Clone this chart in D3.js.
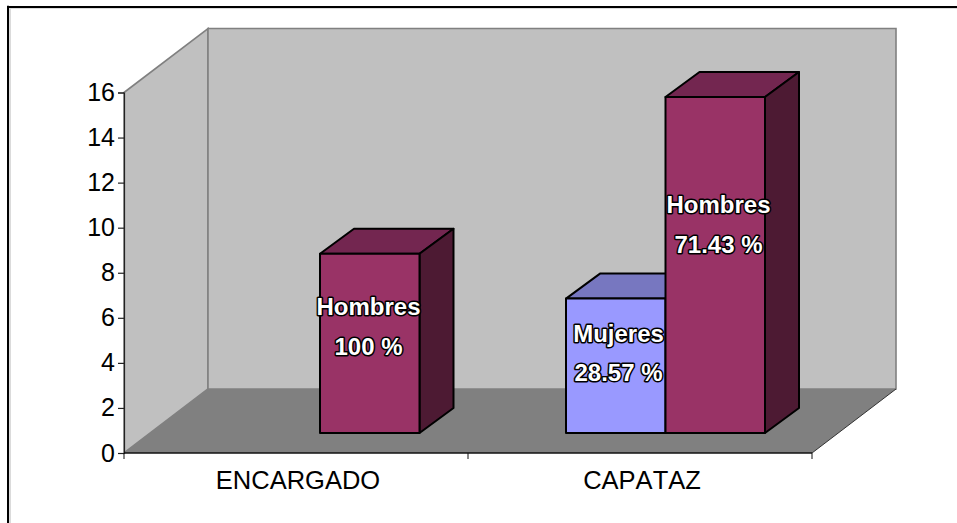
<!DOCTYPE html>
<html><head><meta charset="utf-8">
<script src="https://cdn.jsdelivr.net/npm/d3@7/dist/d3.min.js"></script>
<style>html,body{margin:0;padding:0;background:#fff}svg{display:block}text{font-family:"Liberation Sans",Arial,sans-serif;font-kerning:none}</style>
</head><body><svg id="c" width="957" height="523"></svg>
<script>
const categories = ["ENCARGADO", "CAPATAZ"];
const yTicks = [0,2,4,6,8,10,12,14,16];
const seriesMujeres = [null, 6];
const seriesHombres = [8, 15];
const labelsMujeres = [null, ["Mujeres","28.57 %"]];
const labelsHombres = [["Hombres","100 %"], ["Hombres","71.43 %"]];

const svg = d3.select("#c");
const x0=124,x1=812,y0=453,y1=92.5,dX=84,dY=64;
const x = d3.scaleBand().domain(categories).range([x0,x1]);
const y = d3.scaleLinear().domain([0,16]).range([y0,y1]);
const yBar = d3.scaleLinear().domain([0,16]).range([433,74.6]);
const inner = d3.scaleBand().domain(["Mujeres","Hombres"]).range([0,199]);
const C=(...p)=>p.map(q=>q.join(",")).join(" ");
const g=svg.append("g");

// frame: only the top and left rules appear in the picture
g.append("line").attr("x1",10).attr("x2",10).attr("y1",8).attr("y2",523).attr("stroke","#b8b8b8").attr("stroke-width",1);
g.append("line").attr("x1",8).attr("x2",957).attr("y1",8.5).attr("y2",8.5).attr("stroke","#dcdcdc").attr("stroke-width",1);
g.append("line").attr("x1",8).attr("x2",8).attr("y1",5.7).attr("y2",523).attr("stroke","#000").attr("stroke-width",2);
g.append("line").attr("x1",7).attr("x2",957).attr("y1",7).attr("y2",7).attr("stroke","#000").attr("stroke-width",2);
// walls
g.append("polygon").attr("points",C([x0,y0],[x0+dX,y0-dY],[x0+dX,y1-dY],[x0,y1])).attr("fill","#c0c0c0").attr("stroke","#808080").attr("stroke-width",1.6);
g.append("polygon").attr("points",C([x0+dX,y0-dY],[x1+dX,y0-dY],[x1+dX,y1-dY],[x0+dX,y1-dY])).attr("fill","#c0c0c0").attr("stroke","#808080").attr("stroke-width",1.6);
g.append("polygon").attr("points",C([x0,y0],[x1,y0],[x1+dX,y0-dY],[x0+dX,y0-dY])).attr("fill","#808080");
g.append("line").attr("x1",x1).attr("y1",y0).attr("x2",x1+dX).attr("y2",y0-dY).attr("stroke","#333").attr("stroke-width",1);

// axes
const ay=d3.axisLeft(y).tickValues(yTicks).tickSize(6).tickPadding(3);
const gy=g.append("g").attr("transform",`translate(${x0},0)`).call(ay);
gy.selectAll("text").attr("font-size",25).attr("fill","#000").attr("font-family","Liberation Sans");
gy.selectAll("path,line").attr("stroke","#222").attr("stroke-width",1.2);
const xTickPos=[x0,x0+x.bandwidth(),x1];
const gx=g.append("g");
gx.append("line").attr("x1",x0).attr("x2",x1).attr("y1",y0).attr("y2",y0).attr("stroke","#111").attr("stroke-width",1.5);
gx.selectAll("line.t").data(xTickPos).join("line").attr("class","t").attr("x1",d=>d).attr("x2",d=>d).attr("y1",y0).attr("y2",y0+6).attr("stroke","#111");
gx.selectAll("text").data(categories).join("text").attr("x",d=>x(d)+x.bandwidth()/2+2).attr("y",489).attr("text-anchor","middle").attr("font-size",25.5).attr("fill","#000").text(d=>d);

// bars
const bx=34,by=25,xOff=[196,98];
function bar(left,w,v,front,top,side){
  const b=yBar(0), t=yBar(v), h=b-t;
  const s=g.append("g").attr("stroke","#000").attr("stroke-width",2).attr("stroke-linejoin","round");
  s.append("polygon").attr("points",C([left,t],[left+bx,t-by],[left+w+bx,t-by],[left+w,t])).attr("fill",top);
  s.append("polygon").attr("points",C([left+w,t],[left+w+bx,t-by],[left+w+bx,b-by],[left+w,b])).attr("fill",side);
  s.append("rect").attr("x",left).attr("y",t).attr("width",w).attr("height",h).attr("fill",front);
}
function lab(cx,lines,ys){
  lines.forEach((l,i)=>{
    g.append("text").attr("x",cx).attr("y",ys[i]).attr("text-anchor","middle").attr("font-size",24).attr("font-weight","bold")
     .attr("fill","#fff").attr("stroke","#000").attr("stroke-width",3).attr("paint-order","stroke").attr("stroke-linejoin","round").text(l);
  });
}
const W=inner.bandwidth();
categories.forEach((c,i)=>{
  const bl=x(c)+xOff[i];
  if(seriesMujeres[i]!=null) bar(bl,W,seriesMujeres[i],"#9999ff","#7777c0","#4d4d80");
});
categories.forEach((c,i)=>{
  const bl=x(c)+xOff[i]+(seriesMujeres[i]!=null?W:0);
  bar(bl,W,seriesHombres[i],"#993366","#732650","#4d1a33");
});
lab(368.5,labelsHombres[0],[315,355]);
lab(718.5,labelsHombres[1],[213,253]);
lab(618.5,labelsMujeres[1],[342,381]);
</script></body></html>
